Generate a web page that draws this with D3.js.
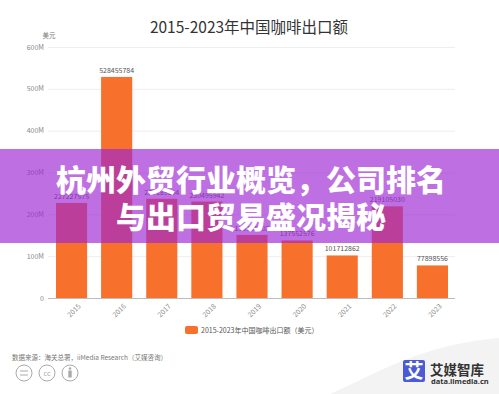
<!DOCTYPE html>
<html>
<head>
<meta charset="utf-8">
<script src="https://cdn.jsdelivr.net/npm/d3@7"></script>
<style>
  body { margin: 0; background: #fff; }
  svg { display: block; font-family: "Noto Sans CJK SC", "Noto Sans", sans-serif; }
</style>
</head>
<body>
<script>
var years = ["2015", "2016", "2017", "2018", "2019", "2020", "2021", "2022", "2023"];
var exportValues = [227227575, 528455784, 237189104, 230495942, 150735802, 137552576, 101712862, 219105030, 77898556];
var yTicks = [0, 100e6, 200e6, 300e6, 400e6, 500e6, 600e6];
var yTickLabels = ["0", "100M", "200M", "300M", "400M", "500M", "600M"];
var bannerLines = ["杭州外贸行业概览，公司排名", "与出口贸易盛况揭秘"];

var width = 499, height = 394;
var margin = { top: 47, right: 44, bottom: 96, left: 49 };

var svg = d3.select("body").append("svg")
    .attr("width", width)
    .attr("height", height);

// light swoosh in the footer corner
svg.append("path")
    .attr("d", "M330,394 C380,372 420,345 499,338 L499,394 Z")
    .attr("fill", "#f3f3f3");

svg.append("text")
    .attr("x", 249)
    .attr("y", 33)
    .attr("text-anchor", "middle")
    .attr("font-size", "15.5px")
    .attr("fill", "#333")
    .text("2015-2023年中国咖啡出口额");

var x = d3.scaleBand()
    .domain(years)
    .range([margin.left, width - margin.right])
    .paddingInner(0.31)
    .paddingOuter(0.155);

var y = d3.scaleLinear()
    .domain([0, 600e6])
    .range([height - margin.bottom, margin.top]);

// gridlines
svg.append("g")
    .selectAll("line")
    .data(yTicks.slice(1))
    .enter().append("line")
    .attr("x1", 48)
    .attr("x2", 455)
    .attr("y1", function (d) { return y(d) + 0.5; })
    .attr("y2", function (d) { return y(d) + 0.5; })
    .attr("stroke", "#eeeeee")
    .attr("stroke-width", 1);

// y labels
svg.append("g")
    .selectAll("text")
    .data(yTicks)
    .enter().append("text")
    .attr("x", 44)
    .attr("y", function (d) { return y(d) + 2.5; })
    .attr("text-anchor", "end")
    .attr("font-size", "7px")
    .attr("fill", "#888")
    .text(function (d, i) { return yTickLabels[i]; });

svg.append("text")
    .attr("x", 49)
    .attr("y", 38)
    .attr("text-anchor", "middle")
    .attr("font-size", "6.5px")
    .attr("fill", "#777")
    .text("美元");

// bars
svg.append("g")
    .selectAll("rect")
    .data(exportValues)
    .enter().append("rect")
    .attr("x", function (d, i) { return x(years[i]); })
    .attr("y", function (d) { return y(d); })
    .attr("width", x.bandwidth())
    .attr("height", function (d) { return y(0) - y(d); })
    .attr("fill", "#f7702c");

svg.append("g")
    .selectAll("text")
    .data(exportValues)
    .enter().append("text")
    .attr("x", function (d, i) { return x(years[i]) + x.bandwidth() / 2; })
    .attr("y", function (d) { return y(d) - 4; })
    .attr("text-anchor", "middle")
    .attr("font-size", "7px")
    .attr("fill", "#555")
    .text(function (d) { return d; });

// x axis
var xAxis = svg.append("g")
    .attr("transform", "translate(0," + y(0) + ")")
    .call(d3.axisBottom(x).tickSize(0).tickPadding(6));
xAxis.select(".domain")
    .attr("d", "M48,0.5H455")
    .attr("stroke", "#bbb");
xAxis.selectAll("text")
    .attr("font-size", "7px")
    .attr("fill", "#888")
    .attr("font-family", "\"Noto Sans CJK SC\", sans-serif")
    .attr("text-anchor", "end")
    .attr("dy", "0.3em")
    .attr("transform", "translate(4,3) rotate(-45)");

// legend
svg.append("rect")
    .attr("x", 185)
    .attr("y", 326)
    .attr("width", 13)
    .attr("height", 8)
    .attr("rx", 2)
    .attr("fill", "#f7702c");
svg.append("text")
    .attr("x", 201)
    .attr("y", 333)
    .attr("font-size", "7px")
    .attr("fill", "#555")
    .text("2015-2023年中国咖啡出口额（美元）");

// footer
svg.append("text")
    .attr("x", 12)
    .attr("y", 360)
    .attr("font-size", "6.5px")
    .attr("fill", "#777")
    .text("数据来源：海关总署，iiMedia Research（艾媒咨询）");

var cc = svg.append("g").attr("fill", "none").attr("stroke", "#aaa").attr("stroke-width", 1);
[24, 47, 70].forEach(function (cx) {
    cc.append("circle").attr("cx", cx).attr("cy", 373).attr("r", 8);
});
cc.append("line").attr("x1", 20).attr("x2", 28).attr("y1", 371).attr("y2", 371);
cc.append("line").attr("x1", 20).attr("x2", 28).attr("y1", 375).attr("y2", 375);
svg.append("text")
    .attr("x", 47).attr("y", 375.5)
    .attr("text-anchor", "middle")
    .attr("font-size", "7px")
    .attr("fill", "#aaa")
    .text("cc");
svg.append("circle").attr("cx", 70).attr("cy", 368.5).attr("r", 1.3).attr("fill", "#aaa");
svg.append("rect").attr("x", 68.3).attr("y", 370.5).attr("width", 3.4).attr("height", 7).attr("fill", "#aaa");

// logo
svg.append("rect")
    .attr("x", 403).attr("y", 360)
    .attr("width", 22).attr("height", 22)
    .attr("rx", 2)
    .attr("fill", "#4b5bd6");
svg.append("text")
    .attr("x", 414).attr("y", 378)
    .attr("text-anchor", "middle")
    .attr("font-size", "19px")
    .attr("font-weight", "bold")
    .attr("fill", "#fff")
    .text("艾");
svg.append("text")
    .attr("x", 430).attr("y", 375)
    .attr("font-size", "13.5px")
    .attr("font-weight", "bold")
    .attr("fill", "#333")
    .text("艾媒智库");
svg.append("text")
    .attr("x", 431).attr("y", 383.5)
    .attr("font-size", "7.5px")
    .attr("font-weight", "bold")
    .attr("font-family", "\"Noto Sans\", sans-serif")
    .attr("fill", "#333")
    .text("data.iimedia.cn");

// purple banner over the chart
svg.append("rect")
    .attr("x", 0).attr("y", 149)
    .attr("width", width).attr("height", 94)
    .attr("fill", "rgb(156,38,211)")
    .attr("fill-opacity", 0.66);

svg.append("g")
    .selectAll("text")
    .data(bannerLines)
    .enter().append("text")
    .attr("x", 251)
    .attr("y", function (d, i) { return 191 + i * 37; })
    .attr("text-anchor", "middle")
    .attr("font-size", "30px")
    .attr("font-weight", "900")
    .attr("fill", "#fff")
    .text(function (d) { return d; });
</script>
</body>
</html>
